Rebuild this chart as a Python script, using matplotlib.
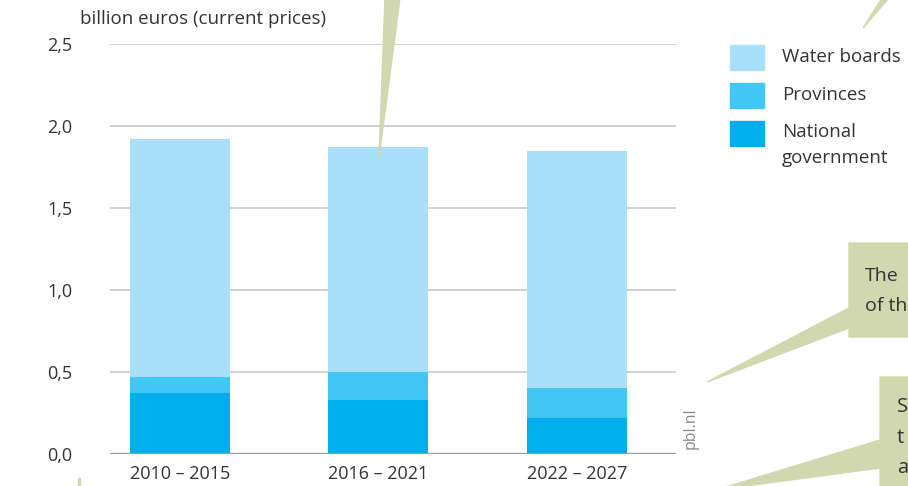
import matplotlib
matplotlib.use("Agg")
import matplotlib.pyplot as plt
from matplotlib.patches import Polygon, Rectangle

# Data (billion euros, current prices)
periods = ["2010 – 2015", "2016 – 2021", "2022 – 2027"]
national = [0.37, 0.33, 0.22]
provinces = [0.10, 0.17, 0.18]
water_boards = [1.45, 1.37, 1.45]
series_names = ["Water boards", "Provinces", "National\ngovernment"]
yticks = [0.0, 0.5, 1.0, 1.5, 2.0, 2.5]

c_water = "#aadff9"
c_prov = "#42c6f3"
c_nat = "#00aeeb"
txt = "#333333"
callout = "#d1d7ae"

plt.rcParams["font.family"] = ["Open Sans", "DejaVu Sans"]

W, H = 908, 486
fig = plt.figure(figsize=(W / 100, H / 100), dpi=100)
ax = fig.add_axes([110 / W, (H - 454) / H, (676 - 110) / W, (454 - 44) / H])

x = list(range(len(periods)))
bottom2 = [a + b for a, b in zip(national, provinces)]
ax.bar(x, national, width=0.504, color=c_nat, zorder=2)
ax.bar(x, provinces, bottom=national, width=0.504, color=c_prov, zorder=2)
ax.bar(x, water_boards, bottom=bottom2, width=0.504, color=c_water, zorder=2)

ax.set_xlim(-0.353, 2.5)
ax.set_ylim(0, 2.5)
ax.set_yticks(yticks)
ax.set_yticklabels([f"{v:.1f}".replace(".", ",") for v in yticks], color=txt, fontsize=13)
ax.set_xticks(x)
ax.set_xticklabels(periods, color=txt, fontsize=13)
ax.tick_params(length=0, pad=8)
ax.tick_params(axis="y", pad=27)
for s in ax.spines.values():
    s.set_visible(False)
for v in yticks[1:]:
    ax.axhline(v, color="#c8c8c8", lw=1.2, zorder=1)
ax.axhline(0, color="#999999", lw=1.6, zorder=3)

fig.text(80 / W, 1 - 19 / H, "billion euros (current prices)", color=txt,
         fontsize=13.5, va="center", ha="left")
fig.text(691 / W, 1 - 428 / H, "pbl.nl", color="#8a8a8a", fontsize=11.5,
         rotation=90, va="center", ha="center")

# legend
colors = [c_water, c_prov, c_nat]
tops = [45, 83, 121]
for name, col, t in zip(series_names, colors, tops):
    fig.patches.append(Rectangle((730 / W, 1 - (t + 25) / H), 34 / W, 25 / H,
                                 color=col, transform=fig.transFigure))
    if "\n" in name:
        fig.text(782 / W, 1 - (t + 2) / H, name, color=txt, fontsize=13.5,
                 va="top", ha="left", linespacing=1.6)
    else:
        fig.text(782 / W, 1 - (t + 12) / H, name, color=txt, fontsize=13.5,
                 va="center", ha="left")

# callout shapes (decorative, cropped from the page)
def poly(pts):
    fig.patches.append(Polygon([(px / W, 1 - py / H) for px, py in pts], closed=True,
                               color=callout, transform=fig.transFigure, zorder=5))

poly([(385, -2), (400, -2), (379, 158)])
poly([(882, -2), (889, -2), (863, 28)])
poly([(849, 243), (910, 243), (910, 337), (849, 337), (849, 328), (707, 382), (849, 308)])
poly([(880, 377), (910, 377), (910, 490), (880, 490), (880, 468), (716, 490), (880, 440)])
poly([(78, 478), (80, 478), (80, 490), (78, 490)])

for s, y in [("The", 276), ("of th", 306)]:
    fig.text(865 / W, 1 - y / H, s, color=txt, fontsize=14, va="center", ha="left", zorder=6)
for s, y in [("S", 407), ("t", 438), ("a", 468)]:
    fig.text(897 / W, 1 - y / H, s, color=txt, fontsize=14.5, va="center", ha="left", zorder=6)

fig.savefig("out.png", dpi=100)
